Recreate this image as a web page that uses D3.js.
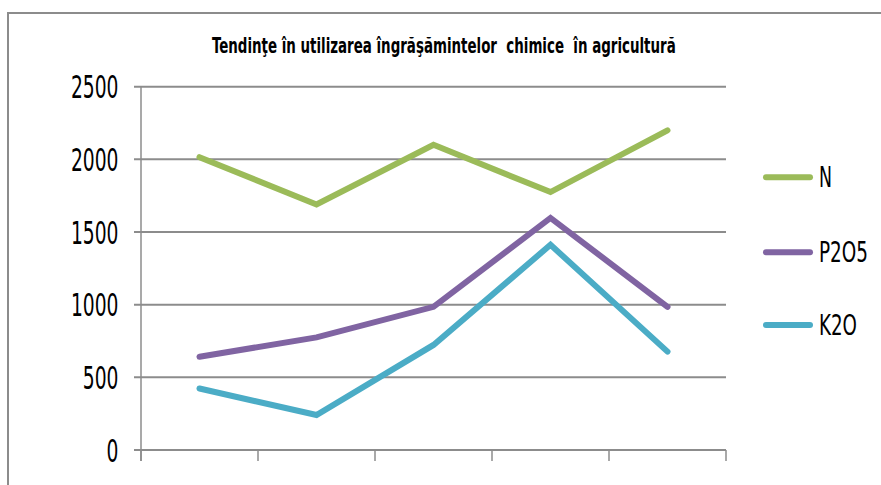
<!DOCTYPE html>
<html><head><meta charset="utf-8">
<script src="https://cdn.jsdelivr.net/npm/d3@7"></script>
<style>body{margin:0;background:#fff}svg{display:block}</style>
</head><body>
<script>
const categories = ["1", "2", "3", "4", "5"];
const seriesNames = ["N", "P2O5", "K2O"];
const valuesN = [2015, 1690, 2100, 1775, 2200];
const valuesP2O5 = [642, 775, 985, 1597, 985];
const valuesK2O = [423, 241, 723, 1412, 677];
const yTicks = [0, 500, 1000, 1500, 2000, 2500];
const colors = ["#9BBB59", "#8064A2", "#4BACC6"];
const titleText = "Tendinţe în utilizarea îngrăşămintelor  chimice  în agricultură";

const W = 881, H = 485;
const svg = d3.select("body").append("svg").attr("width", W).attr("height", H);
const fontFam = "'Liberation Sans Narrow','DejaVu Sans Condensed','Liberation Sans',sans-serif";

function fitText(sel, ax, ay, target, anchor) {
  sel.each(function () {
    const nat = this.getComputedTextLength();
    const k = Math.min(1.2, target / nat);
    const tx = anchor === "end" ? ax - target : ax;
    this.setAttribute("x", 0);
    this.setAttribute("y", 0);
    this.setAttribute("text-anchor", "start");
    this.setAttribute("transform", `translate(${tx},${ay}) scale(${k},1)`);
  });
}

svg.append("rect").attr("x", 8).attr("y", 13).attr("width", 900).attr("height", 500)
  .attr("fill", "none").attr("stroke", "#8c8c8c").attr("stroke-width", 2);

const x0 = 141, x1 = 726, yTop = 86.7, yBot = 450;
const x = d3.scaleBand().domain(categories).range([x0, x1]);
const y = d3.scaleLinear().domain([0, 2500]).range([yBot, yTop]);

svg.append("g").selectAll("line").data(yTicks).join("line")
  .attr("x1", x0 - 7).attr("x2", x1).attr("y1", d => y(d)).attr("y2", d => y(d))
  .attr("stroke", "#8c8c8c").attr("stroke-width", 2);

svg.append("line").attr("x1", x0).attr("x2", x0).attr("y1", yTop).attr("y2", yBot + 11)
  .attr("stroke", "#8c8c8c").attr("stroke-width", 1.5);

const bounds = categories.map(c => x(c)).concat([x1]);
svg.append("g").selectAll("line").data(bounds).join("line")
  .attr("x1", d => d).attr("x2", d => d).attr("y1", yBot).attr("y2", yBot + 11)
  .attr("stroke", "#8c8c8c").attr("stroke-width", 1.5);

svg.append("g").selectAll("text").data(yTicks).join("text")
  .attr("font-family", fontFam).attr("font-size", 32)
  .attr("fill", "#000").text(d => d)
  .each(function (d) { fitText(d3.select(this), 118.5, y(d) + 11.5, String(d).length * 11.9, "end"); });

svg.append("text")
  .attr("font-family", fontFam).attr("font-weight", "bold").attr("font-size", 22)
  .style("white-space", "pre")
  .attr("fill", "#000").text(titleText)
  .call(s => fitText(s, 212, 53, 464, "start"));

const allSeries = [valuesN, valuesP2O5, valuesK2O];
const line = d3.line().x((d, i) => x(categories[i]) + x.bandwidth() / 2).y(d => y(d));
svg.append("g").selectAll("path").data(allSeries).join("path")
  .attr("d", d => line(d)).attr("fill", "none")
  .attr("stroke", (d, i) => colors[i]).attr("stroke-width", 6)
  .attr("stroke-linecap", "round").attr("stroke-linejoin", "miter");

const legY = [177.3, 252.3, 325];
const legW = [13, 49, 38];
const lg = svg.append("g").selectAll("g").data(seriesNames).join("g");
lg.append("line").attr("x1", 766).attr("x2", 810)
  .attr("y1", (d, i) => legY[i]).attr("y2", (d, i) => legY[i])
  .attr("stroke", (d, i) => colors[i]).attr("stroke-width", 6).attr("stroke-linecap", "round");
lg.append("text")
  .attr("font-family", fontFam).attr("font-size", 28)
  .attr("fill", "#000").text(d => d)
  .each(function (d, i) { fitText(d3.select(this), 819, legY[i] + 10, legW[i], "start"); });
</script>
</body></html>
